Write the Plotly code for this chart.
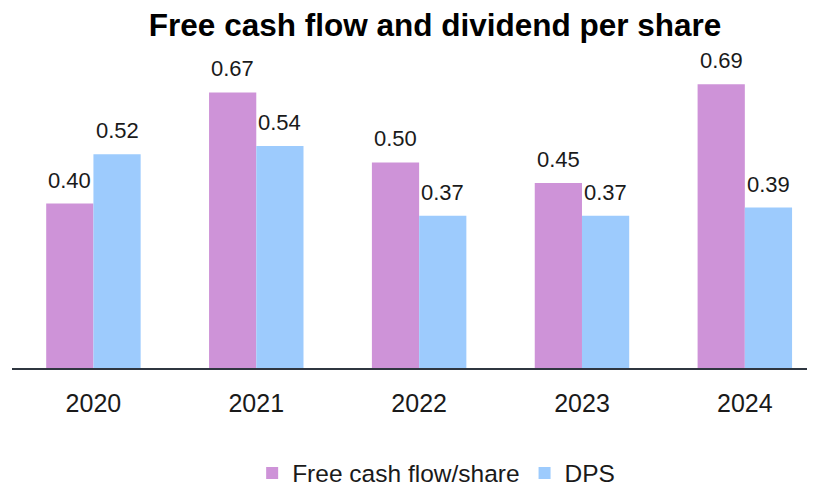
import plotly.graph_objects as go

years = ["2020", "2021", "2022", "2023", "2024"]
fcf = [0.40, 0.67, 0.50, 0.45, 0.69]
dps = [0.52, 0.54, 0.37, 0.37, 0.39]

FONT = "Liberation Sans, Arial, Helvetica, sans-serif"
TXT = "#1a1a1a"

fig = go.Figure()
fig.add_trace(go.Bar(x=years, y=fcf, name="Free cash flow/share", marker_color="#CE93D8",
                     marker_line_width=0))
fig.add_trace(go.Bar(x=years, y=dps, name="DPS", marker_color="#9DCBFD",
                     marker_line_width=0))

annotations = []
for series, shift in ((fcf, -23.6), (dps, 23.6)):
    for i, v in enumerate(series):
        annotations.append(dict(x=i, y=v, xref="x", yref="y", text=f"{v:.2f}",
                                showarrow=False, xshift=shift, yshift=9, yanchor="bottom",
                                font=dict(family=FONT, size=22, color=TXT)))

fig.update_layout(
    width=815, height=486,
    margin=dict(l=4, r=0, t=31, b=126, autoexpand=False),
    paper_bgcolor="white", plot_bgcolor="white",
    font=dict(family=FONT, size=22, color=TXT),
    title=dict(text="<b>Free cash flow and dividend per share</b>", x=0.524, xanchor="center",
               xref="container", y=0.965, yref="container", yanchor="middle",
               font=dict(family=FONT, size=31.5, color="#000000")),
    barmode="group", bargap=0.42, bargroupgap=0,
    showlegend=True,
    legend=dict(orientation="h", x=0.523, xanchor="center", y=-0.319, yanchor="middle",
                font=dict(family=FONT, size=24.5, color=TXT), traceorder="normal"),
    annotations=annotations,
)
fig.update_xaxes(type="category", range=[-0.5, 4.48], showline=True, linecolor="#2F3640",
                 linewidth=2, ticks="", ticklabelstandoff=12, automargin=False,
                 tickfont=dict(family=FONT, size=25, color=TXT))
fig.update_yaxes(range=[0, 0.8], visible=False, showgrid=False, zeroline=False, automargin=False)

fig.write_html("out.html")
